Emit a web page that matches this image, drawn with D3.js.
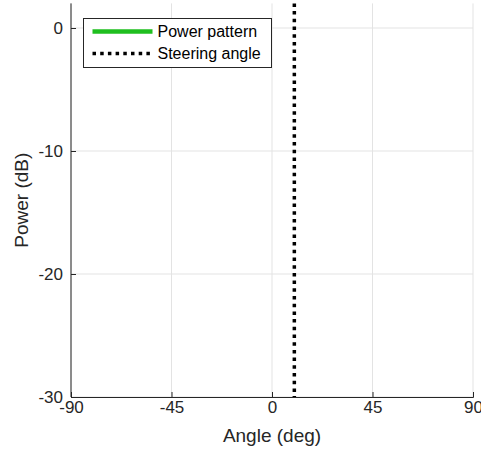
<!DOCTYPE html>
<html>
<head>
<meta charset="utf-8">
<script src="https://cdn.jsdelivr.net/npm/d3@7"></script>
<style>
  body { margin: 0; background: #fff; }
  svg { font-family: "Liberation Sans", Arial, sans-serif; }
</style>
</head>
<body>
<div id="chart"></div>
<script>
// Chart data
const xTicks = [-90, -45, 0, 45, 90];
const yTicks = [-30, -20, -10, 0];
const steeringAngle = [10];
const patternAngles = [];   // power pattern lies outside the visible range
const patternPower = [];
const seriesNames = ['Power pattern', 'Steering angle'];

const W = 481, H = 449;
const margin = {top: 3.4, right: 8, bottom: 52, left: 71};
const width = W - margin.left - margin.right;
const height = H - margin.top - margin.bottom;
const axisColor = '#262626';
const fmt = d => String(d);

const svg = d3.select('#chart')
  .append('svg')
  .attr('width', W)
  .attr('height', H);

const g = svg.append('g')
  .attr('transform', `translate(${margin.left},${margin.top})`);

const x = d3.scaleLinear().domain([-90, 90]).range([0, width]);
const y = d3.scaleLinear().domain([-30, 2]).range([height, 0]);

// Grid
g.append('g')
  .selectAll('line')
  .data(xTicks)
  .enter()
  .append('line')
  .attr('x1', d => x(d)).attr('x2', d => x(d))
  .attr('y1', 0).attr('y2', height)
  .attr('stroke', '#e3e3e3').attr('stroke-width', 1);

g.append('g')
  .selectAll('line')
  .data(yTicks)
  .enter()
  .append('line')
  .attr('x1', 0).attr('x2', width)
  .attr('y1', d => y(d)).attr('y2', d => y(d))
  .attr('stroke', '#e3e3e3').attr('stroke-width', 1);

// X axis
const xAxis = g.append('g')
  .attr('transform', `translate(0,${height})`)
  .call(d3.axisBottom(x).tickValues(xTicks).tickSize(-5).tickPadding(4).tickFormat(fmt));
xAxis.select('.domain').attr('stroke', axisColor);
xAxis.selectAll('.tick line').attr('stroke', axisColor);
xAxis.selectAll('text')
  .attr('fill', axisColor)
  .style('font-size', '17px');

// Y axis
const yAxis = g.append('g')
  .call(d3.axisLeft(y).tickValues(yTicks).tickSize(-5).tickPadding(8).tickFormat(fmt));
yAxis.select('.domain').attr('stroke', axisColor).attr('d', `M0,${height}V0`);
yAxis.selectAll('.tick line').attr('stroke', axisColor);
yAxis.selectAll('text')
  .attr('fill', axisColor)
  .style('font-size', '17px');

// Axis labels
svg.append('text')
  .attr('x', margin.left + width / 2)
  .attr('y', 442)
  .attr('text-anchor', 'middle')
  .attr('fill', axisColor)
  .style('font-size', '19px')
  .text('Angle (deg)');

svg.append('text')
  .attr('transform', `translate(28,${margin.top + y(-14)}) rotate(-90)`)
  .attr('text-anchor', 'middle')
  .attr('fill', axisColor)
  .style('font-size', '19px')
  .text('Power (dB)');

// Power pattern line
g.append('path')
  .datum(patternAngles.map((a, i) => [a, patternPower[i]]))
  .attr('fill', 'none')
  .attr('stroke', '#1fbf1f')
  .attr('stroke-width', 4)
  .attr('d', d3.line().x(d => x(d[0])).y(d => y(d[1])));

// Steering angle line
g.selectAll('.steer')
  .data(steeringAngle)
  .enter()
  .append('line')
  .attr('class', 'steer')
  .attr('x1', d => x(d)).attr('x2', d => x(d))
  .attr('y1', 0).attr('y2', height)
  .attr('stroke', '#000')
  .attr('stroke-width', 3.5)
  .attr('stroke-dasharray', '3.5,4.2');

// Legend
const legend = svg.append('g').attr('transform', 'translate(83.5,18.5)');
legend.append('rect')
  .attr('width', 188).attr('height', 49)
  .attr('fill', '#fff')
  .attr('stroke', axisColor).attr('stroke-width', 1);

const items = legend.selectAll('.item')
  .data(seriesNames)
  .enter()
  .append('g')
  .attr('transform', (d, i) => `translate(0,${13 + i * 22})`);

items.append('line')
  .attr('x1', 9).attr('x2', 69)
  .attr('stroke', (d, i) => i === 0 ? '#1fbf1f' : '#000')
  .attr('stroke-width', (d, i) => i === 0 ? 4.5 : 3.5)
  .attr('stroke-dasharray', (d, i) => i === 0 ? null : '3.5,4.2');

items.append('text')
  .attr('x', 74)
  .attr('dy', '0.35em')
  .attr('fill', '#000')
  .style('font-size', '16px')
  .text(d => d);
</script>
</body>
</html>
